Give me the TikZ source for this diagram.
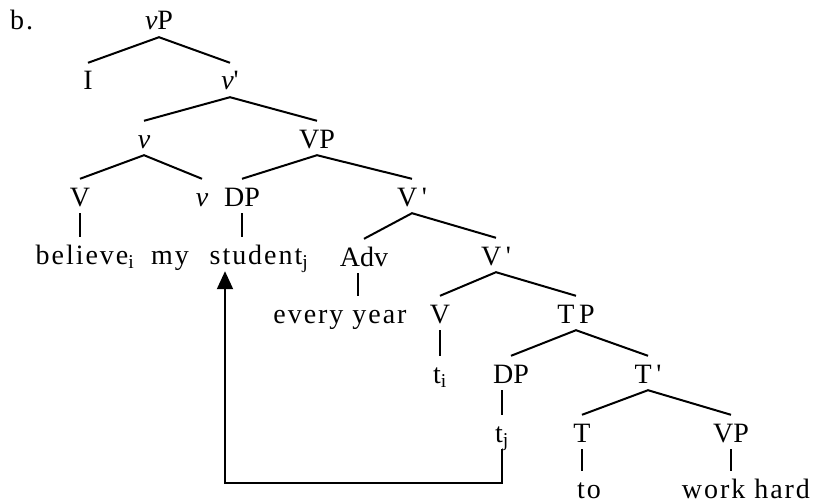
\documentclass[tikz,border=0pt]{standalone}
\usepackage{fontspec}
\setmainfont{Liberation Serif}
\newfontfamily\spaced{Liberation Serif}[LetterSpace=7]
\usetikzlibrary{arrows.meta}

\begin{document}
\begin{tikzpicture}[x=1pt, y=-1pt,
    cat/.style={anchor=base, text height=20pt, text depth=0pt,
              inner xsep=0pt, inner ysep=7pt,
              font=\fontsize{28}{34}\selectfont},
    word/.style={cat, font=\spaced\fontsize{28}{34}\selectfont},
    branch/.style={line width=2pt},
    move/.style={-{Triangle[width=16pt, length=18pt]}, line width=2pt}
]
    \useasboundingbox (0,0) rectangle (820,503);

    \node[word, anchor=base west] (ex) at (10,30) {b.};

    \node[cat] (vp)    at (159,30)  {\textit{v}P};
    \node[cat] (subj)  at (88,90)   {I};
    \node[cat] (vbar)  at (230,90)  {\textit{v}\textquotesingle};
    \node[cat] (vhead) at (144,148) {\textit{v}};
    \node[cat] (VPa)   at (317,148) {VP};
    \node[cat] (Va)    at (80,206)  {V};
    \node[cat] (vaff)  at (202,206) {\textit{v}};
    \node[cat] (DPa)   at (242,206) {DP};
    \node[cat] (Vbara) at (412,206) {V\,\textquotesingle};

    \node[word] (believe) at (85,264)  {believe\textsubscript{i}};
    \node[word] (my)      at (170,264) {my};
    \node[word] (stu)     at (259,264) {student\textsubscript{j}};
    \node[cat]  (adv)     at (364,266) {Adv};
    \node[cat]  (Vbarb)   at (496,265) {V\,\textquotesingle};

    \node[word] (year)  at (340,323) {every year};
    \node[cat]  (Vb)    at (440,323) {V};
    \node[cat]  (TP)    at (576,323) {T\,P};
    \node[word] (ti)    at (440,383) {t\textsubscript{i}};
    \node[cat]  (DPb)   at (511,383) {DP};
    \node[cat]  (Tbar)  at (648,383) {T\,\textquotesingle};
    \node[word] (tj)    at (502,442) {t\textsubscript{j}};
    \node[cat]  (T)     at (582,442) {T};
    \node[cat]  (VPb)   at (731,442) {VP};
    \node[word] (to)    at (589,498) {to};
    \node[word] (work)  at (746,498) {work hard};

    \draw[branch] (subj.north) -- (vp.south) -- (vbar.north);
    \draw[branch] (vhead.north) -- (vbar.south) -- (VPa.north);
    \draw[branch] (Va.north) -- (vhead.south) -- (vaff.north);
    \draw[branch] (DPa.north) -- (VPa.south) -- (Vbara.north);
    \draw[branch] (adv.north) -- (Vbara.south) -- (Vbarb.north);
    \draw[branch] (Vb.north) -- (Vbarb.south) -- (TP.north);
    \draw[branch] (DPb.north) -- (TP.south) -- (Tbar.north);
    \draw[branch] (T.north) -- (Tbar.south) -- (VPb.north);

    \draw[branch] (Va.south) -- (Va.south |- believe.north);
    \draw[branch] (DPa.south) -- (DPa.south |- stu.north);
    \draw[branch] ([xshift=-6pt]adv.south) -- ([xshift=-6pt]adv.south |- year.north);
    \draw[branch] (Vb.south) -- (Vb.south |- ti.north);
    \draw[branch] (tj.north |- DPb.south) -- (tj.north);
    \draw[branch] (T.south) -- (T.south |- to.north);
    \draw[branch] (VPb.south) -- (VPb.south |- work.north);

    \coordinate (land) at (225,483);
    \draw[move] (tj.south) |- (land) -- (land |- stu.south);
\end{tikzpicture}
\end{document}
